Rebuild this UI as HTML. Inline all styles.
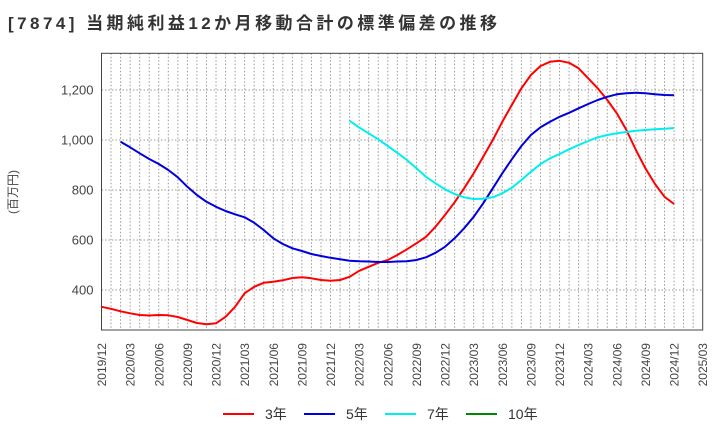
<!DOCTYPE html>
<html><head><meta charset="utf-8"><style>
body{margin:0;background:#fff;}
svg text{font-family:"Liberation Sans","Noto Sans CJK JP",sans-serif;}
</style></head><body>
<svg id="c" width="720" height="440" xmlns="http://www.w3.org/2000/svg">
<text x="8" y="29" font-size="17" font-weight="bold" fill="#333" textLength="489" lengthAdjust="spacing">[7874]  当期純利益12か月移動合計の標準偏差の推移</text>
<g id="grid"></g>
<g id="series"></g>
<g id="axes"></g>
<text transform="translate(17,192) rotate(-90)" text-anchor="middle" font-size="12" fill="#444">(百万円)</text>
<g>
<line x1="223" y1="414" x2="254" y2="414" stroke="#ff0000" stroke-width="2"/><text x="265" y="419" font-size="14" fill="#333">3年</text>
<line x1="304" y1="414" x2="335" y2="414" stroke="#0000dd" stroke-width="2"/><text x="346" y="419" font-size="14" fill="#333">5年</text>
<line x1="385" y1="414" x2="416" y2="414" stroke="#00eeee" stroke-width="2"/><text x="427" y="419" font-size="14" fill="#333">7年</text>
<line x1="466" y1="414" x2="497" y2="414" stroke="#008800" stroke-width="2"/><text x="508" y="419" font-size="14" fill="#333">10年</text>
</g>
</svg>
<script>
const xLabels=["2019/12","2020/03","2020/06","2020/09","2020/12","2021/03","2021/06","2021/09","2021/12","2022/03","2022/06","2022/09","2022/12","2023/03","2023/06","2023/09","2023/12","2024/03","2024/06","2024/09","2024/12","2025/03"];
const yTicks=[400,600,800,1000,1200];
const s3=[333,325,315,307,300,298,300,299,292,280,268,263,267,293,333,387,413,429,433,439,448,451,447,440,437,440,453,477,493,509,520,540,563,587,613,653,700,751,807,867,933,1000,1073,1140,1207,1260,1296,1313,1317,1309,1287,1247,1207,1160,1107,1040,960,887,824,773,744];
const s5=[null,null,993,971,947,924,904,880,851,813,780,753,733,716,703,691,669,640,607,584,567,556,544,536,529,523,517,515,514,512,512,514,515,520,531,549,573,607,647,693,747,807,867,923,976,1020,1051,1073,1093,1109,1127,1144,1160,1173,1183,1187,1189,1187,1183,1180,1179];
const s7=[null,null,null,null,null,null,null,null,null,null,null,null,null,null,null,null,null,null,null,null,null,null,null,null,null,null,1077,1050,1027,1003,976,949,920,887,853,827,803,784,771,764,765,771,787,809,840,873,904,927,944,963,980,996,1011,1020,1027,1032,1037,1040,1043,1045,1048];
const s10=[];
const L=101.5,R=702.7,T=53.3,B=330,NM=63;
const xs=i=>L+(R-L)*i/NM;
const ys=v=>290-(v-400)/4;
const NS="http://www.w3.org/2000/svg";
function mk(t,a,p){const e=document.createElementNS(NS,t);for(const k in a)e.setAttribute(k,a[k]);p.appendChild(e);return e;}
const g=document.getElementById('grid'),ax=document.getElementById('axes'),se=document.getElementById('series');
for(let i=1;i<NM;i++){const l=mk('line',{x1:xs(i),x2:xs(i),y1:T,y2:B,stroke:'#999','stroke-dasharray':'1.5,2','stroke-width':1},g);

}
yTicks.forEach(v=>{const l=mk('line',{x1:L,x2:R,y1:ys(v),y2:ys(v),stroke:'#999','stroke-dasharray':'1.5,2','stroke-width':1},g);


const t=mk('text',{x:L-8,y:ys(v)+4.5,'text-anchor':'end','font-size':13,fill:'#444'},ax);t.textContent=v.toLocaleString('en-US');

});
const fr=mk('rect',{x:L,y:T,width:R-L,height:B-T,fill:'none',stroke:'#444','stroke-width':1},ax);


xLabels.forEach((s,k)=>{const x=xs(k*3);const t=mk('text',{transform:`translate(${x+4.5},343) rotate(-90)`,'text-anchor':'end','font-size':12,fill:'#444'},ax);t.textContent=s;

});
function draw(arr,col,name){let d='';arr.forEach((v,i)=>{if(v==null)return;d+=(d?'L':'M')+xs(i).toFixed(1)+','+ys(v).toFixed(1);});
if(!d)return;const p=mk('path',{d:d,fill:'none',stroke:col,'stroke-width':2,'stroke-linejoin':'round'},se);

}
draw(s3,'#ff0000','line-3y');draw(s5,'#0000dd','line-5y');draw(s7,'#00eeee','line-7y');draw(s10,'#008800','line-10y');
</script>
</body></html>
